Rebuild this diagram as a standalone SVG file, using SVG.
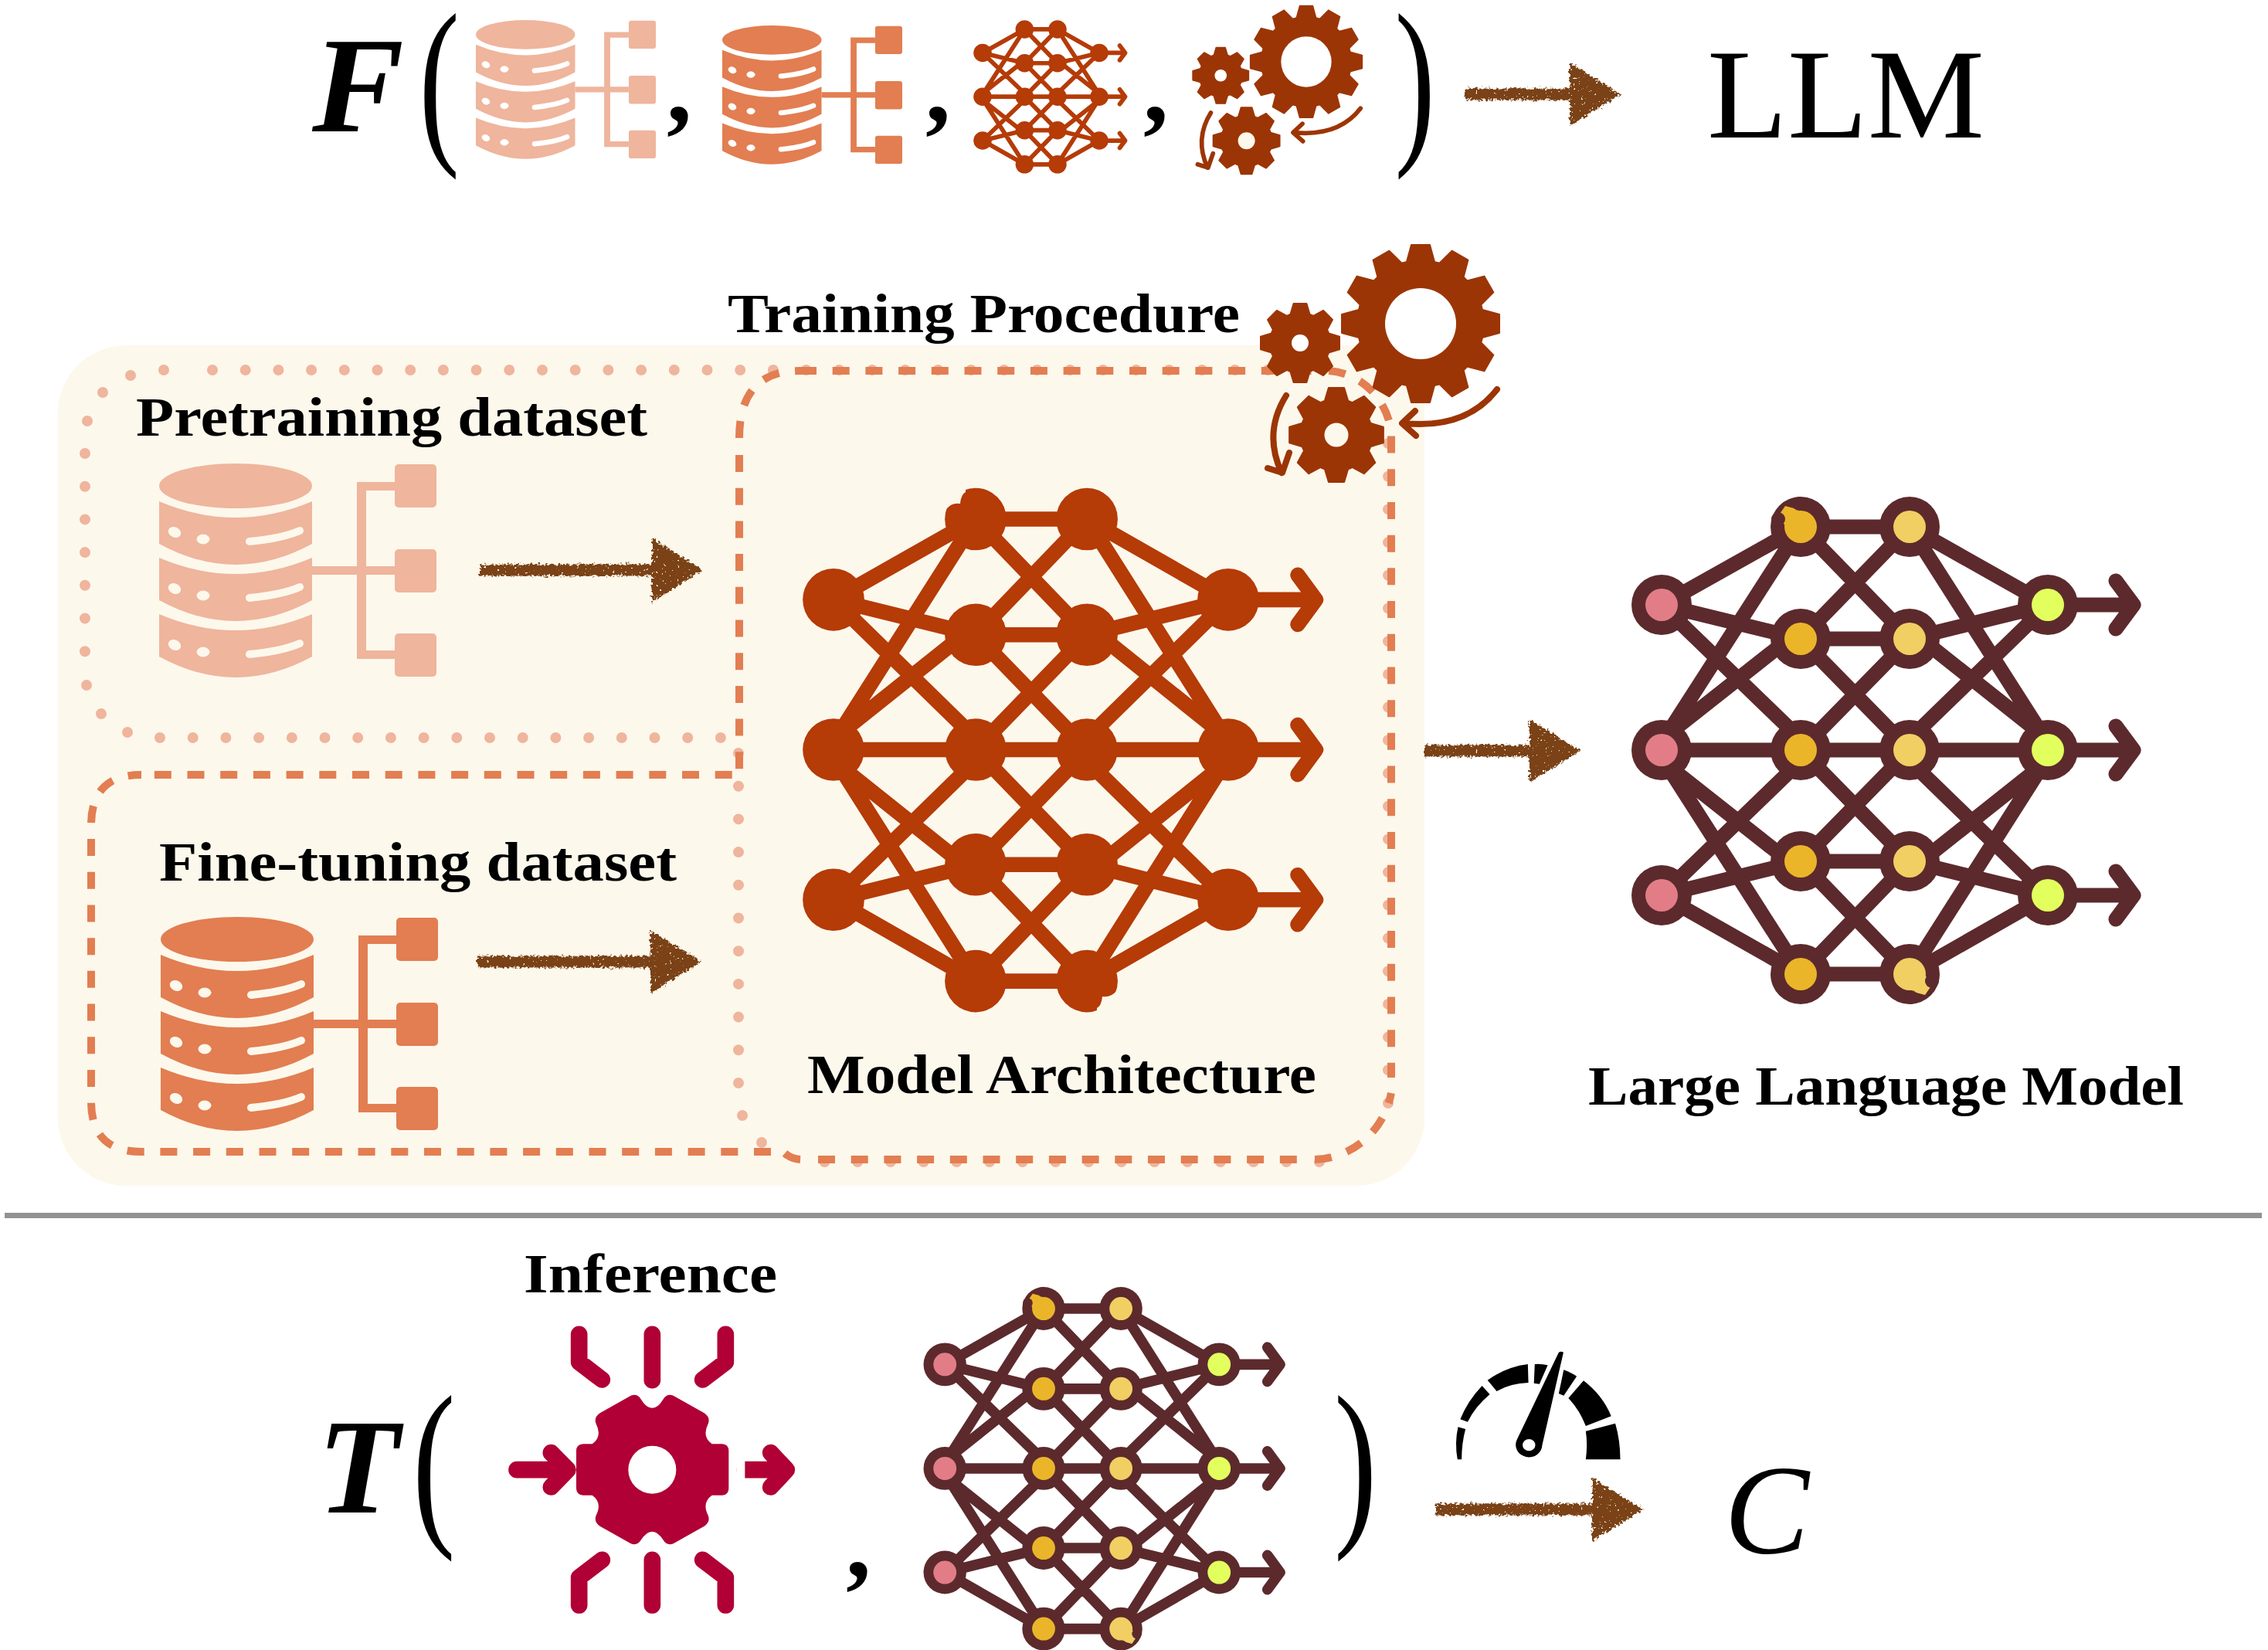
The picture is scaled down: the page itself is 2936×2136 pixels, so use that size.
<svg xmlns="http://www.w3.org/2000/svg" xmlns:xlink="http://www.w3.org/1999/xlink" width="2936" height="2136" viewBox="0 0 2936 2136">
<style>
text{font-family:"Liberation Serif","Times New Roman",serif;fill:#000}
.lbl{font-weight:700;font-size:72px}
.eq{font-weight:700;font-style:italic;font-size:175px}
.edge{fill:none;stroke:currentColor;stroke-width:19;stroke-linecap:round;stroke-linejoin:round}
.ring{fill:currentColor;stroke:none}
.brush{fill:none;stroke:#7a4312;stroke-width:15}
.dash{fill:none;stroke:#e27e51;stroke-width:10;stroke-dasharray:22 20.7}
.dots{fill:none;stroke:#efb59d;stroke-width:14;stroke-linecap:round;stroke-dasharray:0 42.7}
.gear{fill:#9c3505;stroke:#9c3505;stroke-width:2;stroke-linejoin:round}
.crv{fill:none;stroke:#9c3505;stroke-width:8;stroke-linecap:round;stroke-linejoin:round}
.inf{fill:none;stroke:#b00035;stroke-width:65;stroke-linecap:round;stroke-linejoin:round}
</style>
<defs>
<filter id="rough" filterUnits="userSpaceOnUse" x="560" y="50" width="1640" height="1980"><feTurbulence type="fractalNoise" baseFrequency="0.3" numOctaves="2" seed="4" result="n"/><feDisplacementMap in="SourceGraphic" in2="n" scale="9" xChannelSelector="R" yChannelSelector="G" result="d"/><feColorMatrix in="n" type="matrix" values="0 0 0 0 0 0 0 0 0 0 0 0 0 0 0 0 0 0 -16 4.7" result="m"/><feComposite in="d" in2="m" operator="out"/></filter>
<marker id="bh" markerUnits="userSpaceOnUse" markerWidth="70" markerHeight="90" refX="0" refY="42" orient="auto"><path d="M0 1L66 42L0 83Z" fill="#7a4312"/></marker>
<g id="db">
<ellipse cx="305" cy="629" rx="99" ry="29"/>
<path d="M206 649Q305 691 404 649V704Q305 758 206 704Z"/>
<path d="M206 722Q305 764 404 722V777Q305 831 206 777Z"/>
<path d="M206 795Q305 837 404 795V850Q305 904 206 850Z"/>
<path d="M404 733H511V744H404ZM462 624H511V635H474V842H511V853H462Z"/>
<rect x="511" y="601" width="54" height="56" rx="5"/><rect x="511" y="711" width="54" height="56" rx="5"/><rect x="511" y="820" width="54" height="56" rx="5"/>
<g fill="currentColor" stroke="currentColor" stroke-linecap="round">
<g><ellipse cx="226" cy="689" rx="8" ry="6" transform="rotate(25 226 689)"/><ellipse cx="263" cy="698" rx="8" ry="6"/><path d="M323 701Q365 697 388 687" fill="none" stroke-width="10"/></g>
<g transform="translate(0 73)"><ellipse cx="226" cy="689" rx="8" ry="6" transform="rotate(25 226 689)"/><ellipse cx="263" cy="698" rx="8" ry="6"/><path d="M323 701Q365 697 388 687" fill="none" stroke-width="10"/></g>
<g transform="translate(0 146)"><ellipse cx="226" cy="689" rx="8" ry="6" transform="rotate(25 226 689)"/><ellipse cx="263" cy="698" rx="8" ry="6"/><path d="M323 701Q365 697 388 687" fill="none" stroke-width="10"/></g>
</g>
</g>
<g id="net">
<path class="edge" d="M2151 783L2331 682M2151 783L2331 827M2151 783L2331 957M2151 962L2331 682M2151 957L2331 815M2151 971L2331 971M2151 985L2331 1127M2151 980L2331 1261M2151 1159L2331 985M2151 1159L2331 1115M2151 1159L2331 1261M2331 682H2472M2331 827H2472M2331 971H2472M2331 1115H2472M2331 1261H2472M2331 682L2472 827M2331 827L2472 682M2331 827L2472 971M2331 971L2472 827M2331 971L2472 1115M2331 1115L2472 971M2331 1115L2472 1261M2331 1261L2472 1115M2651 783L2472 682M2651 783L2472 827M2651 783L2472 957M2651 962L2472 682M2651 957L2472 815M2651 971L2472 971M2651 985L2472 1127M2651 980L2472 1261M2651 1159L2472 985M2651 1159L2472 1115M2651 1159L2472 1261M2651 783H2758M2739 752L2762 783L2739 814M2651 971H2758M2739 940L2762 971L2739 1002M2651 1159H2758M2739 1128L2762 1159L2739 1190"/>
<g class="ring"><circle cx="2151" cy="783" r="39"/><circle cx="2151" cy="971" r="39"/><circle cx="2151" cy="1159" r="39"/><circle cx="2651" cy="783" r="39"/><circle cx="2651" cy="971" r="39"/><circle cx="2651" cy="1159" r="39"/><circle cx="2331" cy="682" r="39"/><circle cx="2331" cy="827" r="39"/><circle cx="2331" cy="971" r="39"/><circle cx="2331" cy="1115" r="39"/><circle cx="2331" cy="1261" r="39"/><circle cx="2472" cy="682" r="39"/><circle cx="2472" cy="827" r="39"/><circle cx="2472" cy="971" r="39"/><circle cx="2472" cy="1115" r="39"/><circle cx="2472" cy="1261" r="39"/></g>
</g>
<g id="netfill">
<g fill="#e27d87"><circle cx="2151" cy="783" r="21"/><circle cx="2151" cy="971" r="21"/><circle cx="2151" cy="1159" r="21"/></g>
<g fill="#ebb52a"><circle cx="2331" cy="682" r="21"/><circle cx="2331" cy="827" r="21"/><circle cx="2331" cy="971" r="21"/><circle cx="2331" cy="1115" r="21"/><circle cx="2331" cy="1261" r="21"/></g>
<g fill="#f1cf63"><circle cx="2472" cy="682" r="21"/><circle cx="2472" cy="827" r="21"/><circle cx="2472" cy="971" r="21"/><circle cx="2472" cy="1115" r="21"/><circle cx="2472" cy="1261" r="21"/></g>
<g fill="#e2ff5e"><circle cx="2651" cy="783" r="21"/><circle cx="2651" cy="971" r="21"/><circle cx="2651" cy="1159" r="21"/></g>
<path d="M2330 660L2311 655L2302 668L2312 682Z" fill="#ebb52a"/>
<circle cx="2302" cy="672" r="9" fill="#5c2a2c"/><circle cx="2329" cy="652" r="9" fill="#5c2a2c"/>
<path d="M2473 1283L2492 1288L2501 1275L2491 1261Z" fill="#f1cf63"/>
<circle cx="2501" cy="1270" r="9" fill="#5c2a2c"/><circle cx="2474" cy="1291" r="9" fill="#5c2a2c"/>
</g>
<g id="g12"><circle class="gear" r="82"/><path id="t12" class="gear" d="M-18 -80L-12 -102H12L18 -80V80L12 102H-12L-18 80Z"/><use href="#t12" transform="rotate(30)"/><use href="#t12" transform="rotate(60)"/><use href="#t12" transform="rotate(90)"/><use href="#t12" transform="rotate(120)"/><use href="#t12" transform="rotate(150)"/></g>
<g id="g8"><circle class="gear" r="39"/><path id="t8" class="gear" d="M-12.6 -37L-8.4 -51H8.4L12.6 -37V37L8.4 51H-8.4L-12.6 37Z"/><use href="#t8" transform="rotate(45)"/><use href="#t8" transform="rotate(90)"/><use href="#t8" transform="rotate(135)"/></g>
<g id="gears">
<use href="#g12" transform="translate(1839 419)"/><circle cx="1839" cy="419" r="46" fill="#fff"/>
<use href="#g8" transform="translate(1683 444)"/><circle cx="1683" cy="444" r="11" fill="#fff"/>
<use href="#g8" transform="translate(1730 563) scale(1.19)"/><circle cx="1730" cy="563" r="15.5" fill="#fdf8ec"/>
<path class="crv" d="M1665 512Q1635 560 1659 612M1641 606L1660 612L1669 586"/>
<path class="crv" d="M1938 504Q1898 556 1817 548M1832 532L1815 548L1833 564"/>
</g>
</defs>
<rect width="2936" height="2136" fill="#fff"/>

<g id="equation-top">
<text class="eq" x="404" y="170" textLength="119" lengthAdjust="spacingAndGlyphs">F</text>
<text transform="translate(542.5 182) scale(.66 1)" font-size="238">(</text>
<text font-size="130" font-weight="700" x="863" y="157">,</text>
<text font-size="130" font-weight="700" x="1198" y="157">,</text>
<text font-size="130" font-weight="700" x="1480" y="157">,</text>
<text transform="translate(1805.5 182) scale(.66 1)" font-size="238">)</text>
<text x="2210" y="178" font-size="165" textLength="359" lengthAdjust="spacingAndGlyphs">LLM</text>
<use href="#db" fill="#efb59d" color="#fff" transform="translate(482.3 -363.4) scale(.649)"/>
<use href="#db" fill="#e27e51" color="#fff" transform="translate(801.3 -356.4) scale(.649)"/>
<use href="#net" color="#b53b07" transform="translate(622.4 -168) scale(.302)"/>
<use href="#gears" transform="translate(385.3 -217.5) scale(.71)"/>
</g>

<g id="training-panel"><rect x="75" y="447" width="1769" height="1088" rx="88" fill="#fdf8ec"/></g>
<g id="pretraining-region">
<path class="dots" d="M275 479H1725M110 587V846M207 955H935M956 1402V970M1797 574V1440M1708 1504H1060"/>
<g fill="#efb59d"><circle cx="212" cy="479" r="7"/><circle cx="169" cy="486" r="7"/><circle cx="133" cy="508" r="7"/><circle cx="113" cy="545" r="7"/><circle cx="112" cy="887" r="7"/><circle cx="131" cy="924" r="7"/><circle cx="165" cy="948" r="7"/><circle cx="961" cy="1444" r="7"/><circle cx="986" cy="1479" r="7"/></g>
</g>
<g id="finetuning-region"><path class="dash" d="M998 1491H183Q118 1491 118 1426V1068Q118 1003 183 1003M199.8 1003H960"/></g>
<g id="architecture-region"><path class="dash" d="M1035 480H1705M1720 480C1760 482 1796 515 1801 560V1395M1702 1501C1745 1500 1790 1470 1801 1415M1059 1501H1690M1016 1493Q1025 1501 1038 1501M957 589V1003M957 567Q957 480 1035 480"/></g>

<g id="node-pretraining-dataset">
<text class="lbl" x="176" y="564" textLength="662" lengthAdjust="spacingAndGlyphs">Pretraining dataset</text>
<use href="#db" fill="#efb59d" color="#fdf8ec"/>
</g>
<g id="node-finetuning-dataset">
<text class="lbl" x="206" y="1140" textLength="670" lengthAdjust="spacingAndGlyphs">Fine-tuning dataset</text>
<use href="#db" fill="#e27e51" color="#fdf8ec" transform="translate(2 587)"/>
</g>
<g id="node-model-architecture">
<use href="#net" color="#b53b07" transform="matrix(1.022 0 0 1.033 -1119.3 -32.5)"/>
<path d="M1215 625H1250L1250 637Q1244 640 1243 652Q1232 650 1224 660H1215ZM1455 1317H1420L1420 1305Q1426 1302 1427 1290Q1438 1292 1446 1282H1455Z" fill="#fdf8ec"/>
<text class="lbl" x="1045" y="1415" textLength="659" lengthAdjust="spacingAndGlyphs">Model Architecture</text>
</g>
<g id="node-training-procedure">
<text class="lbl" x="942" y="430" textLength="663" lengthAdjust="spacingAndGlyphs">Training Procedure</text>
<use href="#gears"/>
</g>
<g id="node-large-language-model">
<use href="#net" color="#5c2a2c"/><use href="#netfill"/>
<text class="lbl" x="2056" y="1430" textLength="771" lengthAdjust="spacingAndGlyphs">Large Language Model</text>
</g>

<g id="divider"><path d="M6 1573.5H2928" stroke="#929292" stroke-width="7" fill="none"/></g>

<g id="equation-bottom">
<text class="eq" x="411" y="1958" textLength="106" lengthAdjust="spacingAndGlyphs">T</text>
<text transform="translate(534 1971) scale(.7 1)" font-size="238">(</text>
<text font-size="130" font-weight="700" x="1095" y="2041">,</text>
<text transform="translate(1727 1971) scale(.7 1)" font-size="238">)</text>
<text x="2232" y="2010" font-size="165" font-style="italic">C</text>
<g id="node-inference">
<text class="lbl" x="678" y="1673" textLength="328" lengthAdjust="spacingAndGlyphs">Inference</text>
<g transform="translate(620 1630) scale(.33333)">
<path fill="#b00035" d="M673 578Q650 578 630 545Q615 520 590 530L470 598Q445 615 455 640Q480 690 440 718H405Q378 720 378 745V890Q378 915 405 917H440Q480 945 455 995Q445 1020 470 1037L590 1105Q615 1115 630 1090Q650 1058 673 1058Q695 1058 715 1090Q730 1115 755 1105L875 1037Q900 1020 890 995Q865 945 905 917H945Q970 915 970 890V745Q970 720 945 718H905Q865 690 890 640Q900 615 875 598L755 530Q730 520 715 545Q695 578 673 578Z"/>
<circle cx="673" cy="818" r="93" fill="#fff"/>
<path class="inf" d="M389 292V400L478 468M673 292V470M958 292V400L869 468M389 1344V1236L478 1168M673 1344V1168M958 1344V1236L869 1168M147 818H340M280 752L345 818L280 885M1033 818H1190M1133 752L1195 818L1133 885"/>
<path d="M1000 780H1033V856H1000Z" fill="#fff"/>
</g>
</g>
<g id="node-model-small"><use href="#net" color="#5c2a2c" transform="matrix(.71 0 0 .716 -304 1205.7)"/><use href="#netfill" transform="matrix(.71 0 0 .716 -304 1205.7)"/></g>
<g id="node-gauge" transform="translate(1800 1720) scale(.35714 .33333)">
<path d="M245 382L272 390Q258 445 258 508H243Q232 445 245 382Z"/>
<path d="M253 352Q280 280 332 222L360 255Q305 305 280 362Z"/>
<path d="M352 200Q420 148 498 138L500 210Q435 212 385 243Z"/>
<path d="M523 138Q548 136 570 142L540 215L520 212Z"/>
<path d="M628 160Q655 170 675 185L628 260L610 252Z"/>
<path d="M700 202Q770 260 800 340L708 378Q685 315 645 270Z"/>
<path d="M708 398L815 368Q833 435 833 508H708Q715 450 708 398Z"/>
<path d="M610 92Q618 86 627 92L550 452A48 48 0 1 1 458 432Z"/>
<circle cx="502" cy="452" r="23" fill="#fff"/>
</g>
</g>

<g id="connectors" filter="url(#rough)">
<path class="brush" marker-end="url(#bh)" d="M1897 122H2032"/>
<path class="brush" marker-end="url(#bh)" d="M621 738H844"/>
<path class="brush" marker-end="url(#bh)" d="M618 1245H842"/>
<path class="brush" marker-end="url(#bh)" d="M1844 972H1980"/>
<path class="brush" marker-end="url(#bh)" d="M1859 1954H2061"/>
</g>
</svg>
